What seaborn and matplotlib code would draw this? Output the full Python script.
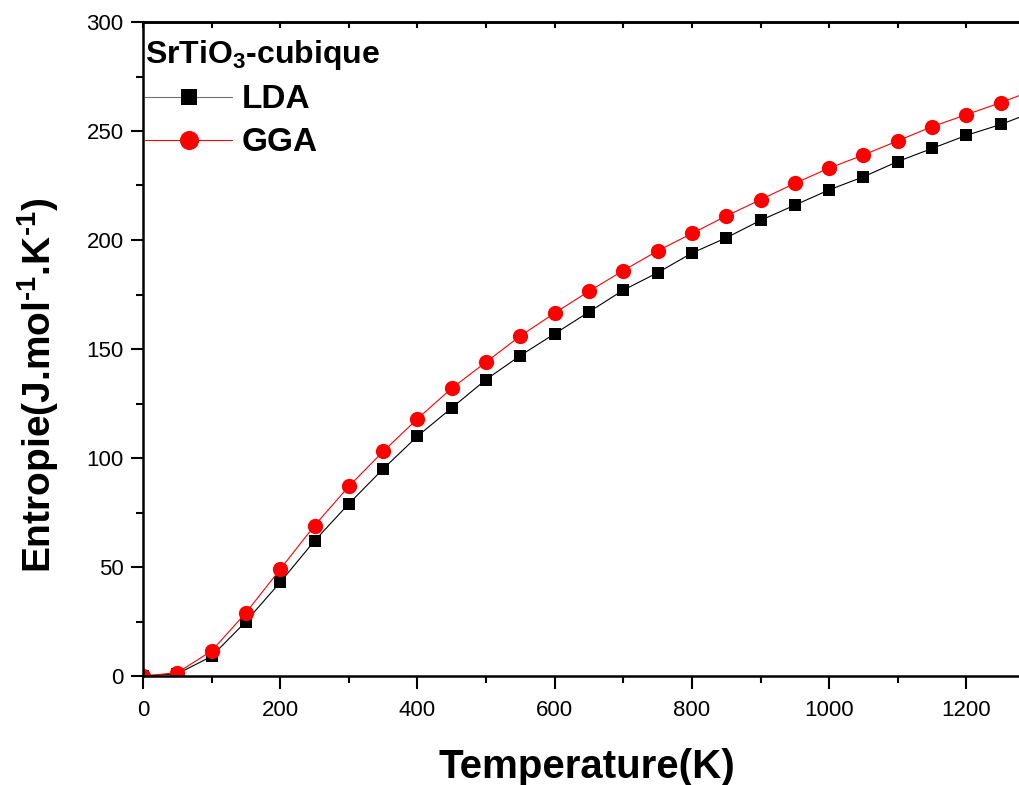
import matplotlib
matplotlib.use("Agg")
import matplotlib.pyplot as plt
import seaborn as sns
import pandas as pd
from matplotlib.ticker import MultipleLocator

temperature = [0, 50, 100, 150, 200, 250, 300, 350, 400, 450, 500, 550, 600, 650,
               700, 750, 800, 850, 900, 950, 1000, 1050, 1100, 1150, 1200, 1250, 1300]
entropy_lda = [0, 1.0, 9, 25, 43, 62, 79, 95, 110, 123, 136, 147, 157, 167,
               177, 185, 194, 201, 209, 216, 223, 229, 236, 242, 248, 253, 259]
entropy_gga = [0, 1.5, 11.5, 29, 49, 69, 87, 103, 118, 132, 144, 156, 166.5, 176.5,
               186, 195, 203, 211, 218.5, 226, 233, 239, 245.5, 252, 257.5, 263, 269]
legend_title = r"SrTiO$_\mathbf{3}$-cubique"
series_names = ["LDA", "GGA"]
xticks = [0, 200, 400, 600, 800, 1000, 1200]
yticks = [0, 50, 100, 150, 200, 250, 300]

sns.set_style("white")
plt.rcParams["font.family"] = ["Liberation Sans", "DejaVu Sans"]
plt.rcParams["mathtext.fontset"] = "custom"
plt.rcParams["mathtext.rm"] = "Liberation Sans:bold"
plt.rcParams["mathtext.bf"] = "Liberation Sans:bold"
plt.rcParams["mathtext.default"] = "bf"
for k in ["text.color", "axes.labelcolor", "xtick.color", "ytick.color", "axes.edgecolor"]:
    plt.rcParams[k] = "black"

df = pd.DataFrame({
    "T": temperature * 2,
    "S": entropy_lda + entropy_gga,
    "m": [series_names[0]] * len(temperature) + [series_names[1]] * len(temperature),
})

fig = plt.figure(figsize=(10.2, 7.85), dpi=100)
ax = fig.add_axes([143 / 1020, 109 / 785, 1 - 143 / 1020 + 0.01, (676 - 22) / 785])

sns.lineplot(data=df[df.m == series_names[0]], x="T", y="S", ax=ax, color="black", lw=0.8,
             marker="s", markersize=9, markeredgewidth=0, label=series_names[0])
sns.lineplot(data=df[df.m == series_names[1]], x="T", y="S", ax=ax, color="#ff0000", lw=0.8,
             marker="o", markersize=11, markeredgewidth=0, label=series_names[1])

ax.set_xlim(0, 1293)
ax.set_ylim(0, 300)
ax.set_xticks(xticks)
ax.set_yticks(yticks)
ax.xaxis.set_minor_locator(MultipleLocator(100))
ax.yaxis.set_minor_locator(MultipleLocator(25))

for s in ["left", "bottom", "top", "right"]:
    ax.spines[s].set_linewidth(1.8)
    ax.spines[s].set_color("black")

ax.tick_params(axis="both", which="both", bottom=True, left=True, top=False, right=False)
ax.tick_params(axis="both", which="major", direction="out", length=9, width=1.5,
               labelsize=16, colors="black")
ax.tick_params(axis="both", which="minor", direction="out", length=5, width=1.5)
ax.tick_params(axis="x", which="major", pad=8)
ax.tick_params(axis="y", which="major", pad=5)

sec = ax.secondary_xaxis("top")
sec.set_xticks(xticks)
sec.xaxis.set_minor_locator(MultipleLocator(100))
sec.tick_params(which="both", direction="in", length=4, width=1.5, labeltop=False, top=True)
sec.spines["top"].set_linewidth(1.8)

ax.set_xlabel("Temperature(K)", fontsize=29, fontweight="bold", labelpad=20)
ax.set_ylabel(r"Entropie(J.mol$^{\text{-}1}$.K$^{\text{-}1}$)", fontsize=28, fontweight="bold")
ax.yaxis.set_label_coords(-0.092, 0.445)

leg = ax.legend(title=legend_title, loc="upper left", bbox_to_anchor=(-0.005, 0.985),
                frameon=False, prop={"weight": "bold", "size": 24},
                title_fontproperties={"weight": "bold", "size": 23},
                handlelength=2.6, handletextpad=0.3, labelspacing=0.36,
                markerscale=1.25, borderpad=0.2, borderaxespad=0.0, alignment="left")
leg.get_lines()[0].set_color("#707070")
leg.get_lines()[0].set_markerfacecolor("black")
leg.get_title().set_color("black")
for t in leg.get_texts():
    t.set_color("black")

fig.savefig("out.png", dpi=100)
